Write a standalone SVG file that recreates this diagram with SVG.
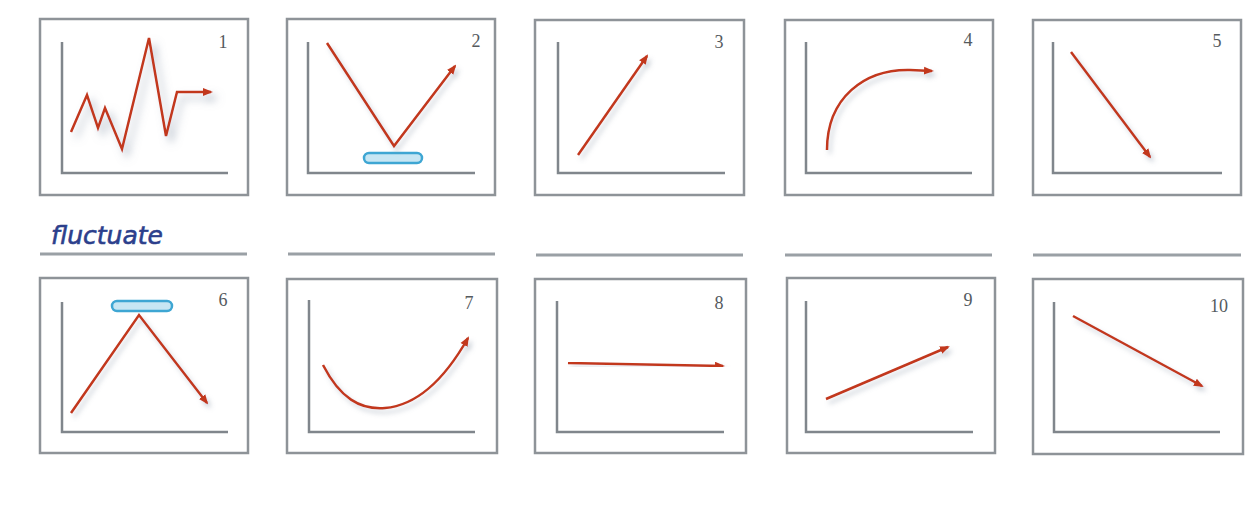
<svg xmlns="http://www.w3.org/2000/svg" width="1251" height="509" viewBox="0 0 1251 509">
  <style>
    .box { fill: #ffffff; stroke: #8e9398; stroke-width: 2.5; }
    .axis { fill: none; stroke: #80868c; stroke-width: 2.5; }
    .trend { fill: none; stroke: #c2381f; stroke-width: 2.5; stroke-linejoin: miter; filter: url(#shadow); }
    .heavy { filter: url(#shadowHeavy); }
    .arr { marker-end: url(#head); }
    .num { font-family: "Liberation Serif", "DejaVu Serif", serif; font-size: 18px; fill: #555a5e; text-anchor: middle; }
    .sep { stroke: #9aa0a5; stroke-width: 3; }
    .pill { fill: #c7e6f3; stroke: #3ea6d3; stroke-width: 2.5; }
    .label { font-family: "DejaVu Sans", sans-serif; font-style: italic; font-size: 25px; fill: #2c3f8c; stroke: #2c3f8c; stroke-width: 0.6; }
  </style>
  <defs>
    <filter id="shadow" x="-20%" y="-20%" width="150%" height="150%">
      <feDropShadow dx="3" dy="4" stdDeviation="2.5" flood-color="#8a96a8" flood-opacity="0.45"/>
    </filter>
    <filter id="shadowHeavy" x="-20%" y="-20%" width="150%" height="150%">
      <feDropShadow dx="5" dy="6" stdDeviation="4" flood-color="#7d8ba0" flood-opacity="0.6"/>
    </filter>
    <marker id="head" viewBox="0 0 10 10" refX="8" refY="5" markerWidth="10" markerHeight="10" markerUnits="userSpaceOnUse" orient="auto">
      <path d="M0,1 L10,5 L0,9 Z" fill="#c2381f"/>
    </marker>
  </defs>
  <rect width="1251" height="509" fill="#ffffff"/>

  <!-- Row 1 -->
  <g id="panel1">
    <rect class="box" x="40" y="19" width="208" height="176"/>
    <path class="axis" d="M62,42 V173 H228"/>
    <path class="trend heavy arr" d="M71,132 L87,95 L98,128 L105,108 L122,149 L149,38 L166,136 L177,92 L211,92"/>
    <text class="num" x="223" y="48">1</text>
  </g>
  <g id="panel2">
    <rect class="box" x="287" y="19" width="208" height="176"/>
    <path class="axis" d="M308,42 V173 H475"/>
    <rect class="pill" x="364" y="153" width="58" height="10" rx="5"/>
    <path class="trend arr" d="M327,43 L394,146 L455,66"/>
    <text class="num" x="476" y="47">2</text>
  </g>
  <g id="panel3">
    <rect class="box" x="535" y="20" width="209" height="175"/>
    <path class="axis" d="M558,42 V173 H725"/>
    <path class="trend arr" d="M578,155 L647,56"/>
    <text class="num" x="719" y="48">3</text>
  </g>
  <g id="panel4">
    <rect class="box" x="785" y="20" width="208" height="175"/>
    <path class="axis" d="M806,42 V173 H972"/>
    <path class="trend arr" d="M827,150 C827,98 864,69 910,70 L932,71"/>
    <text class="num" x="968" y="46">4</text>
  </g>
  <g id="panel5">
    <rect class="box" x="1033" y="20" width="208" height="175"/>
    <path class="axis" d="M1053,42 V173 H1222"/>
    <path class="trend arr" d="M1071,52 L1150,157"/>
    <text class="num" x="1217" y="47">5</text>
  </g>

  <!-- Label and separators -->
  <g id="label">
    <text class="label" x="51" y="244">fluctuate</text>
  </g>
  <g id="separators">
    <line class="sep" x1="40" y1="254" x2="247" y2="254"/>
    <line class="sep" x1="288" y1="254" x2="495" y2="254"/>
    <line class="sep" x1="536" y1="255" x2="743" y2="255"/>
    <line class="sep" x1="785" y1="255" x2="992" y2="255"/>
    <line class="sep" x1="1033" y1="255" x2="1241" y2="255"/>
  </g>

  <!-- Row 2 -->
  <g id="panel6">
    <rect class="box" x="40" y="278" width="208" height="175"/>
    <path class="axis" d="M62,302 V432 H228"/>
    <rect class="pill" x="112" y="301" width="60" height="10" rx="5"/>
    <path class="trend arr" d="M71,413 L139,315 L207,403"/>
    <text class="num" x="223" y="306">6</text>
  </g>
  <g id="panel7">
    <rect class="box" x="287" y="279" width="210" height="174"/>
    <path class="axis" d="M309,300 V432 H475"/>
    <path class="trend arr" d="M323,365 C340,398 360,410 385,408 C420,405 447,375 468,338"/>
    <text class="num" x="469" y="309">7</text>
  </g>
  <g id="panel8">
    <rect class="box" x="535" y="279" width="211" height="174"/>
    <path class="axis" d="M557,301 V432 H724"/>
    <path class="trend arr" d="M568,363 L723,366"/>
    <text class="num" x="719" y="309">8</text>
  </g>
  <g id="panel9">
    <rect class="box" x="787" y="278" width="208" height="175"/>
    <path class="axis" d="M806,301 V432 H973"/>
    <path class="trend arr" d="M826,399 L948,347"/>
    <text class="num" x="968" y="306">9</text>
  </g>
  <g id="panel10">
    <rect class="box" x="1033" y="279" width="210" height="175"/>
    <path class="axis" d="M1054,302 V432 H1220"/>
    <path class="trend arr" d="M1073,316 L1202,386"/>
    <text class="num" x="1219" y="312">10</text>
  </g>
</svg>
